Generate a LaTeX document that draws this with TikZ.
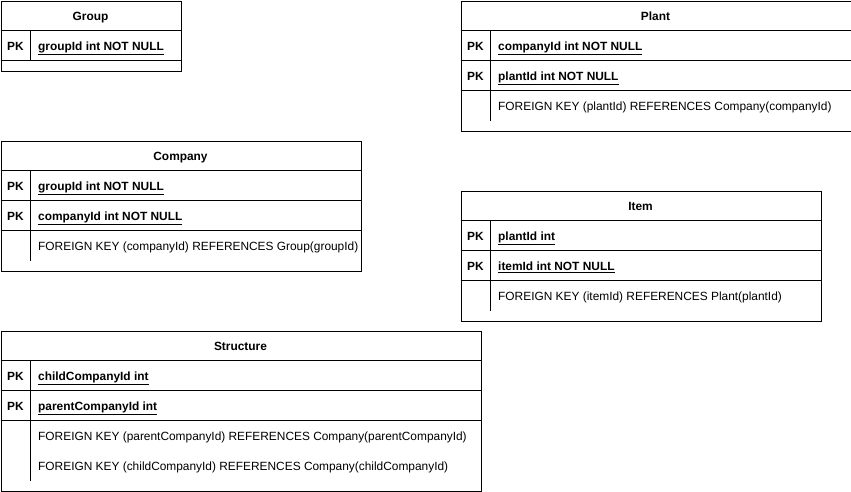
\documentclass[tikz,border=0pt]{standalone}
\usepackage{fontspec}
\setmainfont{Liberation Sans}
\begin{document}
\begin{tikzpicture}[x=1pt,y=-1pt,
  box/.style={draw, line width=0.8pt, anchor=north west, inner sep=0pt, minimum width=#1},
  sep/.style={line width=0.8pt},
  hdr/.style={font=\fontsize{11.9}{14}\selectfont\bfseries, anchor=base, inner sep=0pt},
  pk/.style={font=\fontsize{11.9}{14}\selectfont\bfseries, anchor=base west, inner sep=0pt},
  fld/.style={font=\fontsize{11.9}{14}\selectfont\bfseries, anchor=base west, inner sep=0pt},
  fk/.style={font=\fontsize{11.9}{14}\selectfont, anchor=base west, inner sep=0pt}]
\useasboundingbox (0,0) rectangle (851,491);
% Group
\node[box=180pt, minimum height=70pt] (group) at (0.5,0.5) {};
\draw[sep] (0.5,30.5) -- (180.5,30.5);
\draw[sep] (0.5,60.5) -- (180.5,60.5);
\draw[sep] (30.5,30.5) -- (30.5,60.5);
\node[hdr] (gh) at (90.5,20.3) {Group};
\node[pk] (gpk) at (7,50.3) {PK};
\node[fld] (gf) at (38,50.3) {\underline{groupId int NOT NULL}};
% Plant
\node[box=390pt, minimum height=130pt] (plant) at (460.5,0.5) {};
\draw[sep] (460.5,30.5) -- (850.5,30.5);
\draw[sep] (460.5,60.5) -- (850.5,60.5);
\draw[sep] (460.5,90.5) -- (850.5,90.5);
\draw[sep] (490.5,30.5) -- (490.5,120.5);
\node[hdr] (ph) at (655.5,20.3) {Plant};
\node[pk] (ppk1) at (467,50.3) {PK};
\node[fld] (pf1) at (498,50.3) {\underline{companyId int NOT NULL}};
\node[pk] (ppk2) at (467,80.3) {PK};
\node[fld] (pf2) at (498,80.3) {\underline{plantId int NOT NULL}};
\node[fk] (pfk) at (498,110.3) {FOREIGN KEY (plantId) REFERENCES Company(companyId)};
% Company
\node[box=360pt, minimum height=130pt] (company) at (0.5,140.5) {};
\draw[sep] (0.5,170.5) -- (360.5,170.5);
\draw[sep] (0.5,200.5) -- (360.5,200.5);
\draw[sep] (0.5,230.5) -- (360.5,230.5);
\draw[sep] (30.5,170.5) -- (30.5,260.5);
\node[hdr] (ch) at (180.5,160.3) {Company};
\node[pk] (cpk1) at (7,190.3) {PK};
\node[fld] (cf1) at (38,190.3) {\underline{groupId int NOT NULL}};
\node[pk] (cpk2) at (7,220.3) {PK};
\node[fld] (cf2) at (38,220.3) {\underline{companyId int NOT NULL}};
\node[fk] (cfk) at (38,250.3) {FOREIGN KEY (companyId) REFERENCES Group(groupId)};
% Item
\node[box=360pt, minimum height=130pt] (item) at (460.5,190.5) {};
\draw[sep] (460.5,220.5) -- (820.5,220.5);
\draw[sep] (460.5,250.5) -- (820.5,250.5);
\draw[sep] (460.5,280.5) -- (820.5,280.5);
\draw[sep] (490.5,220.5) -- (490.5,310.5);
\node[hdr] (ih) at (640.5,210.3) {Item};
\node[pk] (ipk1) at (467,240.3) {PK};
\node[fld] (if1) at (498,240.3) {\underline{plantId int}};
\node[pk] (ipk2) at (467,270.3) {PK};
\node[fld] (if2) at (498,270.3) {\underline{itemId int NOT NULL}};
\node[fk] (ifk) at (498,300.3) {FOREIGN KEY (itemId) REFERENCES Plant(plantId)};
% Structure
\node[box=480pt, minimum height=160pt] (structure) at (0.5,330.5) {};
\draw[sep] (0.5,360.5) -- (480.5,360.5);
\draw[sep] (0.5,390.5) -- (480.5,390.5);
\draw[sep] (0.5,420.5) -- (480.5,420.5);
\draw[sep] (30.5,360.5) -- (30.5,480.5);
\node[hdr] (sh) at (240.5,350.3) {Structure};
\node[pk] (spk1) at (7,380.3) {PK};
\node[fld] (sf1) at (38,380.3) {\underline{childCompanyId int}};
\node[pk] (spk2) at (7,410.3) {PK};
\node[fld] (sf2) at (38,410.3) {\underline{parentCompanyId int}};
\node[fk] (sfk1) at (38,440.3) {FOREIGN KEY (parentCompanyId) REFERENCES Company(parentCompanyId)};
\node[fk] (sfk2) at (38,470.3) {FOREIGN KEY (childCompanyId) REFERENCES Company(childCompanyId)};
\end{tikzpicture}
\end{document}
